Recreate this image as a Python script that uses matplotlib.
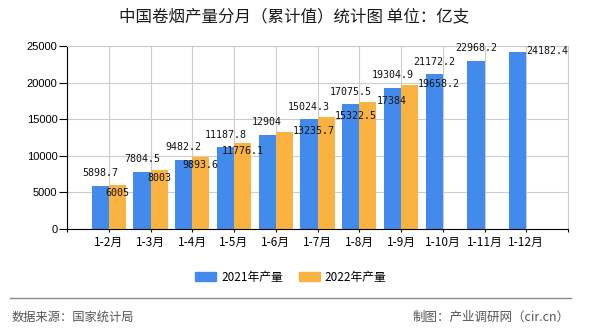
import numpy as np
import matplotlib
matplotlib.use("Agg")
import matplotlib.pyplot as plt
from matplotlib.patches import Patch
from matplotlib.lines import Line2D

plt.rcParams["font.family"] = ["Noto Sans CJK SC", "DejaVu Sans"]

months = ["1-2月", "1-3月", "1-4月", "1-5月", "1-6月", "1-7月",
          "1-8月", "1-9月", "1-10月", "1-11月", "1-12月"]
prod_2021 = [5898.7, 7804.5, 9482.2, 11187.8, 12904, 15024.3,
             17075.5, 19304.9, 21172.2, 22968.2, 24182.4]
prod_2022 = [6005, 8003, 9893.6, 11776.1, 13235.7, 15322.5, 17384, 19658.2]
series_names = ["2021年产量", "2022年产量"]
yticks = [0, 5000, 10000, 15000, 20000, 25000]

BLUE = "#428bec"
ORANGE = "#fab340"
GRID = "#cccccc"


def fmt(v):
    return f"{v:.1f}".rstrip("0").rstrip(".")


fig = plt.figure(figsize=(5.9, 3.3), dpi=100)
ax = fig.add_axes([67 / 590, 1 - 229 / 330, 501 / 590, 183 / 330])

w = 0.41
x1 = np.arange(len(prod_2021))
x2 = np.arange(len(prod_2022))
ax.bar(x1 - w / 2, prod_2021, width=w, color=BLUE, zorder=2)
ax.bar(x2 + w / 2, prod_2022, width=w, color=ORANGE, zorder=2)

lab = dict(fontsize=7.2, family="DejaVu Sans Mono", color="#111111",
           textcoords="offset points", va="center", zorder=3)
for i, v in enumerate(prod_2021):
    if i == len(prod_2021) - 1:
        ax.annotate(fmt(v), xy=(i, v), xytext=(0, 0.6), ha="left", **lab)
    else:
        ax.annotate(fmt(v), xy=(i - w / 2, v), xytext=(0, 9), ha="center", **lab)
for i, v in enumerate(prod_2022):
    if i < 4:
        ax.annotate(fmt(v), xy=(i + w / 2, v), xytext=(0, -5.8), ha="center", **lab)
    else:
        ax.annotate(fmt(v), xy=(i + w, v), xytext=(0, 0.6), ha="left", **lab)

ax.set_xlim(-1, 11)
ax.set_ylim(0, 25000)
ax.set_xticks(np.arange(-1, 12))
ax.set_xticklabels([""] + months + [""], fontsize=8.5)
ax.set_yticks(yticks)
ax.set_yticklabels([str(t) for t in yticks], fontsize=8, family="Liberation Sans")
ax.tick_params(axis="y", length=5.8, width=0.8, pad=1, color="black")
ax.tick_params(axis="x", length=2.2, width=0.8, pad=3, color="black")
ax.grid(True, color=GRID, linewidth=0.8)
ax.set_axisbelow(True)
for s in ["top", "right"]:
    ax.spines[s].set_color(GRID)
    ax.spines[s].set_linewidth(0.8)
for s in ["left", "bottom"]:
    ax.spines[s].set_color("black")
    ax.spines[s].set_linewidth(0.8)

fig.text(294 / 590, 1 - 17 / 330, "中国卷烟产量分月（累计值）统计图 单位：亿支",
         ha="center", va="center", fontsize=11.9, color="#1a1a1a")

handles = [Patch(color=BLUE), Patch(color=ORANGE)]
fig.legend(handles, series_names, loc="center", bbox_to_anchor=(291 / 590, 1 - 277 / 330),
           ncol=2, frameon=False, fontsize=8.5, handlelength=1.78, handleheight=0.76,
           handletextpad=0.42, columnspacing=1.35)

fig.add_artist(Line2D([10 / 590, 571 / 590], [1 - 298 / 330] * 2,
                      color="#888888", linewidth=1.0, transform=fig.transFigure))
fig.text(12 / 590, 1 - 317 / 330, "数据来源：国家统计局", ha="left", va="center",
         fontsize=8.8, color="#555555")
fig.text(570 / 590, 1 - 317 / 330, "制图：产业调研网（cir.cn）", ha="right", va="center",
         fontsize=9, color="#555555")

fig.savefig("out.png", dpi=100)
